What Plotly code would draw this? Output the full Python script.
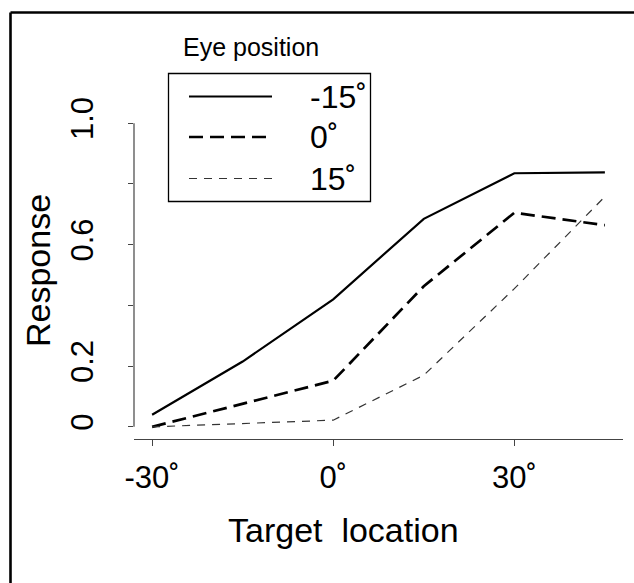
import plotly.graph_objects as go

# Target location (deg) and mean response for three eye positions
target_deg = [-30, -15, 0, 15, 30, 45]
resp_eye_m15 = [0.04, 0.215, 0.42, 0.685, 0.835, 0.838]
resp_eye_0 = [0.0, 0.075, 0.152, 0.463, 0.705, 0.664]
resp_eye_15 = [0.0, 0.012, 0.022, 0.17, 0.455, 0.758]

series_names = ["-15˚", "0˚", "15˚"]
x_tick_vals = [-30, 0, 30]
x_tick_text = ["-30˚", "0˚", "30˚"]
y_tick_vals = [0, 0.2, 0.4, 0.6, 0.8, 1.0]
y_tick_text = ["0", "0.2", "", "0.6", "", "1.0"]

W, H = 634, 583
L, R, T, B = 134, 11, 111, 144
FONT = "Liberation Sans, Arial, Helvetica, sans-serif"

def px_x(p):
    return (p - L) / (W - L - R)

def px_y(p):
    return (H - B - p) / (H - T - B)

styles = [
    dict(color="black", width=2.2, dash="solid"),
    dict(color="black", width=2.7, dash="14px,7px"),
    dict(color="#333333", width=1.2, dash="8px,7px"),
]

fig = go.Figure()
for name, ys, st in zip(series_names, [resp_eye_m15, resp_eye_0, resp_eye_15], styles):
    fig.add_trace(go.Scatter(x=target_deg, y=ys, mode="lines", name=name,
                             line=st, showlegend=False, hoverinfo="skip"))

shapes = []
# outer frame (left and top edges)
shapes.append(dict(type="line", xref="paper", yref="paper",
                   x0=px_x(10.5), x1=px_x(W + 5), y0=px_y(12.5), y1=px_y(12.5),
                   line=dict(color="black", width=2.6)))
shapes.append(dict(type="line", xref="paper", yref="paper",
                   x0=px_x(10.5), x1=px_x(10.5), y0=px_y(12.5), y1=px_y(H + 5),
                   line=dict(color="black", width=2.6)))
# y axis line spanning the tick range
shapes.append(dict(type="line", xref="paper", yref="y",
                   x0=0, x1=0, y0=0, y1=1,
                   line=dict(color="#444444", width=1.2)))

# legend box
lx0, lx1, ly0, ly1 = 168.5, 370.5, 73.5, 201.5
shapes.append(dict(type="rect", xref="paper", yref="paper",
                   x0=px_x(lx0), x1=px_x(lx1), y0=px_y(ly1), y1=px_y(ly0),
                   line=dict(color="black", width=1.3), fillcolor="rgba(0,0,0,0)"))

annotations = []
rows = [96.5, 137, 178.5]
for name, st, ry in zip(series_names, styles, rows):
    shapes.append(dict(type="line", xref="paper", yref="paper",
                       x0=px_x(189), x1=px_x(272), y0=px_y(ry), y1=px_y(ry),
                       line=st))
    annotations.append(dict(text=name, xref="paper", yref="paper",
                            x=px_x(308), y=px_y(ry), xanchor="left", yanchor="middle",
                            showarrow=False, font=dict(family=FONT, size=32, color="black")))

annotations.append(dict(text="Eye position", xref="paper", yref="paper",
                        x=px_x(181), y=px_y(47), xanchor="left", yanchor="middle",
                        showarrow=False, font=dict(family=FONT, size=25, color="black")))
annotations.append(dict(text="Target\u00a0\u00a0location", xref="paper", yref="paper",
                        x=px_x(343), y=px_y(530), xanchor="center", yanchor="middle",
                        showarrow=False, font=dict(family=FONT, size=34, color="black")))
annotations.append(dict(text="Response", xref="paper", yref="paper",
                        x=px_x(38), y=px_y(271), xanchor="center", yanchor="middle",
                        textangle=-90, showarrow=False,
                        font=dict(family=FONT, size=34, color="black")))

fig.update_layout(
    width=W, height=H,
    margin=dict(l=L, r=R, t=T, b=B, pad=0),
    paper_bgcolor="white", plot_bgcolor="white",
    font=dict(family=FONT, color="black"),
    shapes=shapes, annotations=annotations,
    showlegend=False,
)
fig.update_xaxes(range=[-33, 48], tickvals=x_tick_vals, ticktext=x_tick_text,
                 showgrid=False, zeroline=False, showline=True, linecolor="#444444",
                 linewidth=1.4, ticks="outside", ticklen=6, tickwidth=1.2,
                 tickcolor="#444444", tickfont=dict(family=FONT, size=31, color="black"),
                 ticklabelstandoff=5)
fig.update_yaxes(range=[-0.04, 1.04], tickvals=y_tick_vals, ticktext=y_tick_text,
                 showgrid=False, zeroline=False, showline=False,
                 ticks="outside", ticklen=5, tickwidth=1.2, tickcolor="#444444",
                 tickangle=-90, tickfont=dict(family=FONT, size=31, color="black"),
                 ticklabelstandoff=23)

fig.write_html("out.html")
